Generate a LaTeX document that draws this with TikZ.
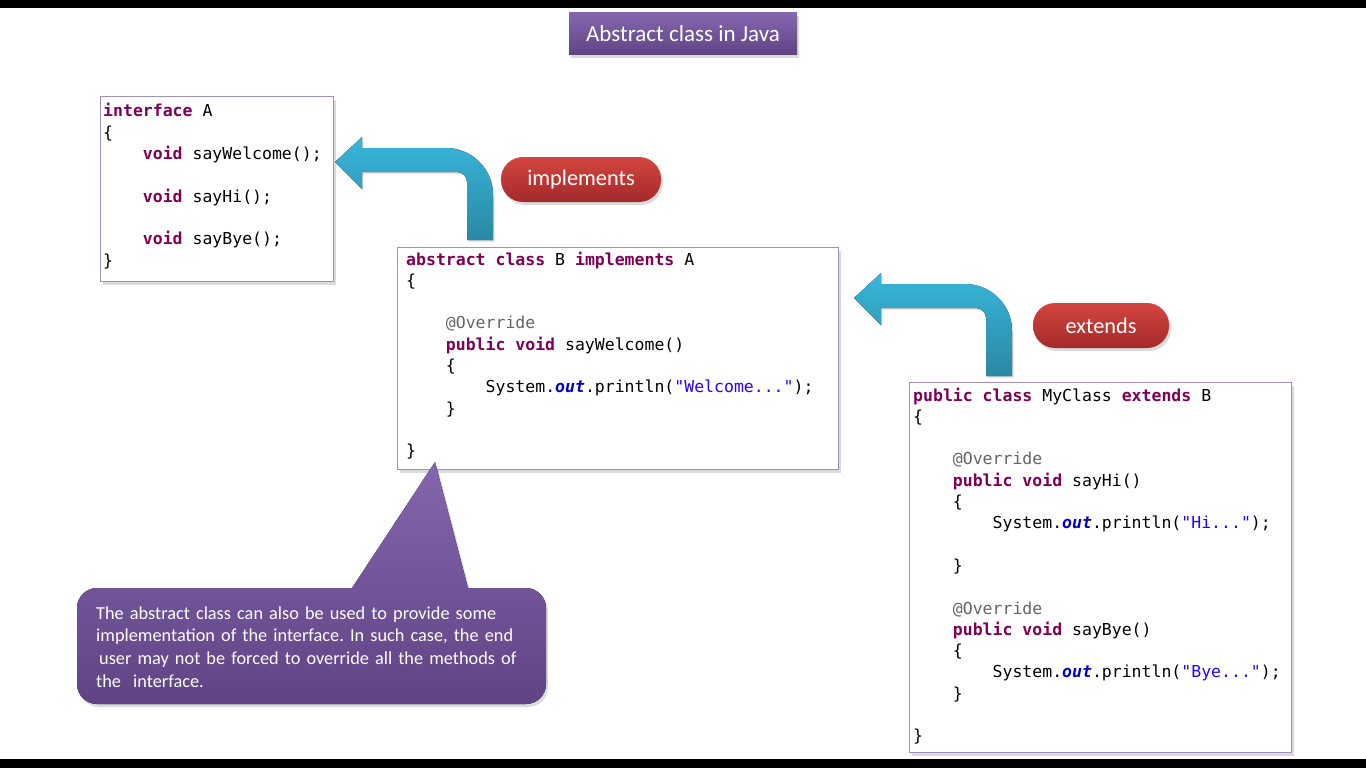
\documentclass[tikz,border=0pt]{standalone}
\usepackage{fontspec}
\newfontfamily\codef{DejaVu Sans Mono}
\newfontfamily\calf{Carlito}
\usetikzlibrary{shadows}
\definecolor{kwc}{HTML}{7F0055}
\definecolor{annc}{HTML}{646464}
\definecolor{fldc}{HTML}{0000C0}
\definecolor{strc}{HTML}{2A00FF}
\definecolor{boxborder}{HTML}{A090B8}
\definecolor{purpletop}{HTML}{8466AE}
\definecolor{purplebot}{HTML}{5F4484}
\definecolor{redtop}{HTML}{D4463F}
\definecolor{redbot}{HTML}{A3292A}
\definecolor{cyantop}{HTML}{38B6DA}
\definecolor{cyanbot}{HTML}{2A88A4}
\newcommand\jkw[1]{{\color{kwc}\bfseries #1}}
\newcommand\jann[1]{{\color{annc}#1}}
\newcommand\jfld[1]{{\color{fldc}\bfseries\itshape #1}}
\newcommand\jstr[1]{{\color{strc}#1}}
\newcommand\jind{\hspace*{39.73pt}}
\newcommand\codesetup{\spaceskip=9.93pt\relax}
\newcommand\notesetup{\frenchspacing}
\tikzset{
  softshadow/.style={drop shadow={opacity=0.28,shadow xshift=2pt,shadow yshift=-3pt}},
  codebox/.style={draw=boxborder,line width=1.3pt,fill=white,anchor=north west,inner sep=0pt,softshadow},
  codetext/.style={anchor=base west,inner sep=0pt,text width=460pt,align=left,
    font=\codef\fontsize{16.5pt}{21.3pt}\selectfont,execute at begin node=\codesetup},
  pill/.style={rounded corners=22pt,inner sep=0pt,text=white,softshadow,
    top color=redtop,bottom color=redbot,font=\calf\fontsize{22.3pt}{26pt}\selectfont},
  titlebox/.style={inner sep=0pt,text=white,softshadow,
    top color=purpletop,bottom color=purplebot,font=\calf\fontsize{23pt}{27pt}\selectfont},
  bentarrow/.style={top color=cyantop,bottom color=cyanbot,
    drop shadow={opacity=0.2,shadow xshift=1.5pt,shadow yshift=-2pt}},
  callout/.style={top color=purpletop,bottom color=purplebot,softshadow},
  callouttext/.style={anchor=base west,inner sep=0pt,text width=470pt,align=left,text=white,
    font=\calf\fontsize{18.3pt}{22.7pt}\selectfont,execute at begin node=\notesetup}
}
\begin{document}
\begin{tikzpicture}[x=1pt,y=-1pt]
\useasboundingbox (0,0) rectangle (1366,768);
\fill[white] (0,0) rectangle (1366,768);
\fill[black] (0,0) rectangle (1366,8);
\fill[black] (0,759) rectangle (1366,768);

% title
\node[titlebox,minimum width=228pt,minimum height=42pt] (title) at (683,34) {Abstract class in Java};

% interface A
\node[codebox,minimum width=233pt,minimum height=185pt] (ifaceA) at (100,96) {};
\node[codetext] (ifaceAtext) at (103,117) {%
\jkw{interface} A\\
\{\\
\jind\jkw{void} sayWelcome();\\
\mbox{}\\
\jind\jkw{void} sayHi();\\
\mbox{}\\
\jind\jkw{void} sayBye();\\
\}};

% abstract class B
\node[codebox,minimum width=441pt,minimum height=222pt] (absB) at (397,247) {};
\node[codetext] (absBtext) at (406,265) {%
\jkw{abstract class} B \jkw{implements} A\\
\{\\
\mbox{}\\
\jind\jann{@Override}\\
\jind\jkw{public void} sayWelcome()\\
\jind\{\\
\jind\jind System.\jfld{out}.println(\jstr{"Welcome..."});\\
\jind\}\\
\mbox{}\\
\}};

% MyClass
\node[codebox,minimum width=382pt,minimum height=370pt] (myC) at (909,382) {};
\node[codetext] (myCtext) at (913,401) {%
\jkw{public class} MyClass \jkw{extends} B\\
\{\\
\mbox{}\\
\jind\jann{@Override}\\
\jind\jkw{public void} sayHi()\\
\jind\{\\
\jind\jind System.\jfld{out}.println(\jstr{"Hi..."});\\
\mbox{}\\
\jind\}\\
\mbox{}\\
\jind\jann{@Override}\\
\jind\jkw{public void} sayBye()\\
\jind\{\\
\jind\jind System.\jfld{out}.println(\jstr{"Bye..."});\\
\jind\}\\
\mbox{}\\
\}};

% bent arrows
\foreach \dx/\dy in {0/0,519/136}{
\begin{scope}[shift={(\dx,\dy)}]
\fill[bentarrow] (467,240) -- (467,182) .. controls (467,176.5) and (462.5,172) .. (457,172)
  -- (362,172) -- (362,189) -- (335,162) -- (362,137) -- (362,148) -- (446,148)
  .. controls (472,148) and (493,169) .. (493,195) -- (493,240) -- cycle;
\end{scope}}

% labels
\node[pill,minimum width=160pt,minimum height=45pt] (impl) at (581,179.5) {implements};
\node[pill,minimum width=136pt,minimum height=45pt] (ext) at (1101,325.5) {extends};

% callout
\fill[callout] (97,588) -- (352,588) -- (435,462) -- (468,588) -- (526,588)
  .. controls (537,588) and (546,597) .. (546,608) -- (546,684)
  .. controls (546,695) and (537,704) .. (526,704) -- (97,704)
  .. controls (86,704) and (77,695) .. (77,684) -- (77,608)
  .. controls (77,597) and (86,588) .. (97,588) -- cycle;
\node[callouttext] (note) at (96,619) {%
The abstract class can also be used to provide some\\
implementation of the interface. In such case, the end\\
\hspace*{3pt}user may not be forced to override all the methods of\\
the\ \ interface.};
\end{tikzpicture}
\end{document}
